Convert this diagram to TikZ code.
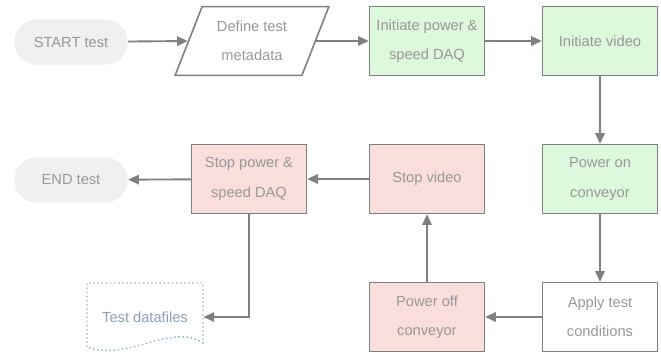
\documentclass[tikz,border=0pt]{standalone}
\usepackage{fontspec}
\setmainfont{Liberation Sans}
\usetikzlibrary{arrows.meta,shapes.geometric}

\definecolor{linegray}{RGB}{128,128,128}
\definecolor{textgray}{RGB}{152,152,152}
\definecolor{pillfill}{RGB}{240,240,240}
\definecolor{greenfill}{RGB}{221,249,219}
\definecolor{redfill}{RGB}{250,222,220}
\definecolor{fileblue}{RGB}{150,180,210}
\definecolor{filetext}{RGB}{138,160,184}

\tikzset{every picture/.style={line width=0.75pt}}
\tikzset{
  boxtext/.style={text=textgray, font=\fontsize{11}{22}\selectfont, align=center},
  pill/.style={boxtext, fill=pillfill, rounded corners=17pt, minimum width=85pt, minimum height=34pt},
  procbox/.style={boxtext, draw=linegray, line width=1.2pt, minimum width=86pt, minimum height=51.5pt},
  startbox/.style={procbox, fill=greenfill},
  stopbox/.style={procbox, fill=redfill},
  iobox/.style={boxtext, draw=linegray, line width=1.2pt, trapezium, trapezium left angle=66.5, trapezium right angle=113.5, trapezium stretches=true, minimum width=116pt, minimum height=51.5pt},
  flow/.style={draw=linegray, line width=1.4pt, -{Triangle[length=8pt,width=7pt]}}
}

\begin{document}
\begin{tikzpicture}[x=0.75pt,y=0.75pt,yscale=-1,xscale=1]
\useasboundingbox (0,0) rectangle (661,354);

% Nodes, top row
\node [pill] (start) at (71,42) {START test};
\node [iobox] (meta) at (252,41) {Define test\\metadata};
\node [startbox] (daqon) at (427,41) {Initiate power \&\\speed DAQ};
\node [startbox] (videoon) at (600,41) {Initiate video};
% Nodes, middle row
\node [pill] (finish) at (71,180) {END test};
\node [stopbox] (daqoff) at (249,179) {Stop power \&\\speed DAQ};
\node [stopbox] (videooff) at (427,179) {Stop video};
\node [startbox] (convon) at (600,179) {Power on\\conveyor};
% Nodes, bottom row
\node [boxtext, text=filetext, minimum width=87pt, minimum height=51.5pt] (files) at (145,317) {Test datafiles};
\node [stopbox] (convoff) at (427,317) {Power off\\conveyor};
\node [procbox] (apply) at (600,317) {Apply test\\conditions};

% Document outline of the datafiles
\draw [fileblue, line width=1.1pt, dotted] (87,347) -- (87,283) -- (203,283) -- (203,343) .. controls (172,322) and (128,362) .. (87,347) ;

% Connectors
\draw [flow] (start) -- (meta.west);
\draw [flow] (meta.east) -- (daqon);
\draw [flow] (daqon) -- (videoon);
\draw [flow] (videoon) -- (convon);
\draw [flow] (convon) -- (apply);
\draw [flow] (apply) -- (convoff);
\draw [flow] (convoff) -- (videooff);
\draw [flow] (videooff) -- (daqoff);
\draw [flow] (daqoff) -- (finish);
\draw [flow] (daqoff.south) |- (files.east);
\end{tikzpicture}
\end{document}
